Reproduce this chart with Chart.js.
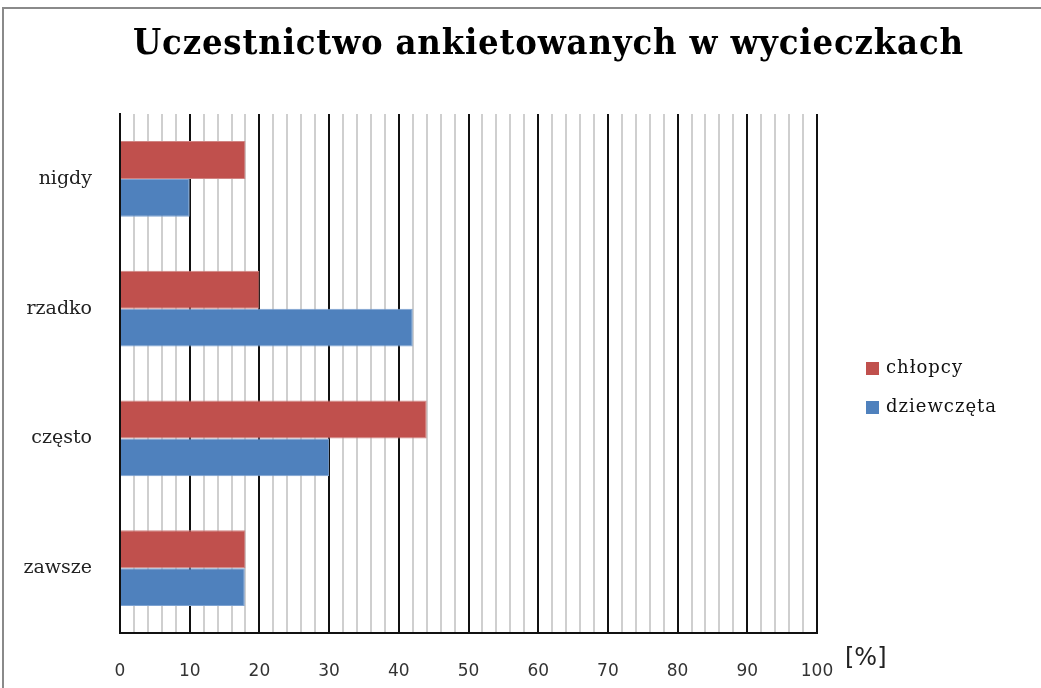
<!DOCTYPE html>
<html><head><meta charset="utf-8">
<script src="https://cdn.jsdelivr.net/npm/chart.js@4/dist/chart.umd.min.js"></script>
<style>html,body{margin:0;padding:0;background:#fff;}#wrap{width:1041px;height:688px;}</style>
</head><body><div id="wrap"><canvas id="c" width="1041" height="688"></canvas></div>
<script>
const titleText = 'Uczestnictwo ankietowanych w wycieczkach';
const categories = ['nigdy', 'rzadko', 'często', 'zawsze'];
const seriesNames = ['chłopcy', 'dziewczęta'];
const boysValues = [18, 20, 44, 18];
const girlsValues = [10, 42, 30, 17.9];
const axisUnit = '[%]';
const colors = ['#C0504D', '#4F81BD'];

const decor = {
  id: 'decor',
  beforeDraw(chart) {
    const ctx = chart.ctx;
    ctx.save();
    ctx.fillStyle = '#fff';
    ctx.fillRect(0, 0, chart.width, chart.height);
    ctx.strokeStyle = '#8a8a8a';
    ctx.lineWidth = 2;
    ctx.strokeRect(3, 8, 1200, 1200);
    ctx.restore();
  },
  afterDraw(chart) {
    const ctx = chart.ctx;
    const a = chart.chartArea;
    ctx.save();
    // title
    ctx.font = 'bold 36px "DejaVu Serif Condensed", "DejaVu Serif", serif';
    ctx.fillStyle = '#000';
    ctx.textBaseline = 'middle';
    ctx.textAlign = 'left';
    const w = ctx.measureText(titleText).width;
    const target = 830;
    const sp = (target - w) / (titleText.length - 1);
    if ('letterSpacing' in ctx) {
      ctx.letterSpacing = sp + 'px';
      ctx.fillText(titleText, 548 - target / 2, 45);
      ctx.letterSpacing = '0px';
    } else {
      ctx.textAlign = 'center';
      ctx.fillText(titleText, 548, 45);
    }
    // unit label
    ctx.font = '24px "DejaVu Sans", sans-serif';
    ctx.fillStyle = '#222';
    ctx.textAlign = 'left';
    ctx.fillText(axisUnit, a.right + 28, a.bottom + 26);
    // legend
    ctx.font = '18px "DejaVu Serif", serif';
    chart.data.datasets.forEach((ds, i) => {
      const y = 368 + i * 39;
      ctx.fillStyle = ds.backgroundColor;
      ctx.fillRect(866, y - 6, 13, 13);
      ctx.fillStyle = '#111';
      ctx.textAlign = 'left';
      if ('letterSpacing' in ctx) ctx.letterSpacing = '1px';
      ctx.fillText(ds.label, 886, y);
      if ('letterSpacing' in ctx) ctx.letterSpacing = '0px';
    });
    ctx.restore();
  }
};

new Chart(document.getElementById('c'), {
  type: 'bar',
  data: {
    labels: categories,
    datasets: [
      { label: seriesNames[0], data: boysValues, backgroundColor: colors[0], borderColor: '#d08583', borderWidth: 1 },
      { label: seriesNames[1], data: girlsValues, backgroundColor: colors[1], borderColor: '#7ea3d2', borderWidth: 1 }
    ]
  },
  options: {
    indexAxis: 'y',
    responsive: false,
    animation: false,
    layout: { padding: { top: 114, right: 224, left: 0, bottom: 0 } },
    plugins: { legend: { display: false }, title: { display: false }, tooltip: { enabled: false } },
    datasets: { bar: { categoryPercentage: 0.585, barPercentage: 1.0 } },
    scales: {
      x: {
        min: 0, max: 100,
        afterFit(s) { s.height = 55; },
        ticks: {
          stepSize: 2, autoSkip: false, maxRotation: 0, padding: 28,
          color: '#333', font: { family: '"DejaVu Sans", sans-serif', size: 17 },
          callback(v) { return v % 10 === 0 ? String(v) : ''; }
        },
        grid: {
          drawTicks: false,
          color(c) { return c.tick && c.tick.value % 10 === 0 ? '#111' : '#cfcfcf'; },
          lineWidth: 2
        },
        border: { color: '#111', width: 2 }
      },
      y: {
        afterFit(s) { s.width = 120; },
        ticks: {
          padding: 28, color: '#222',
          font: { family: '"DejaVu Serif", serif', size: 19 }
        },
        grid: { display: false, drawTicks: false },
        border: { color: '#111', width: 2 }
      }
    }
  },
  plugins: [decor]
});
</script>
</body></html>
